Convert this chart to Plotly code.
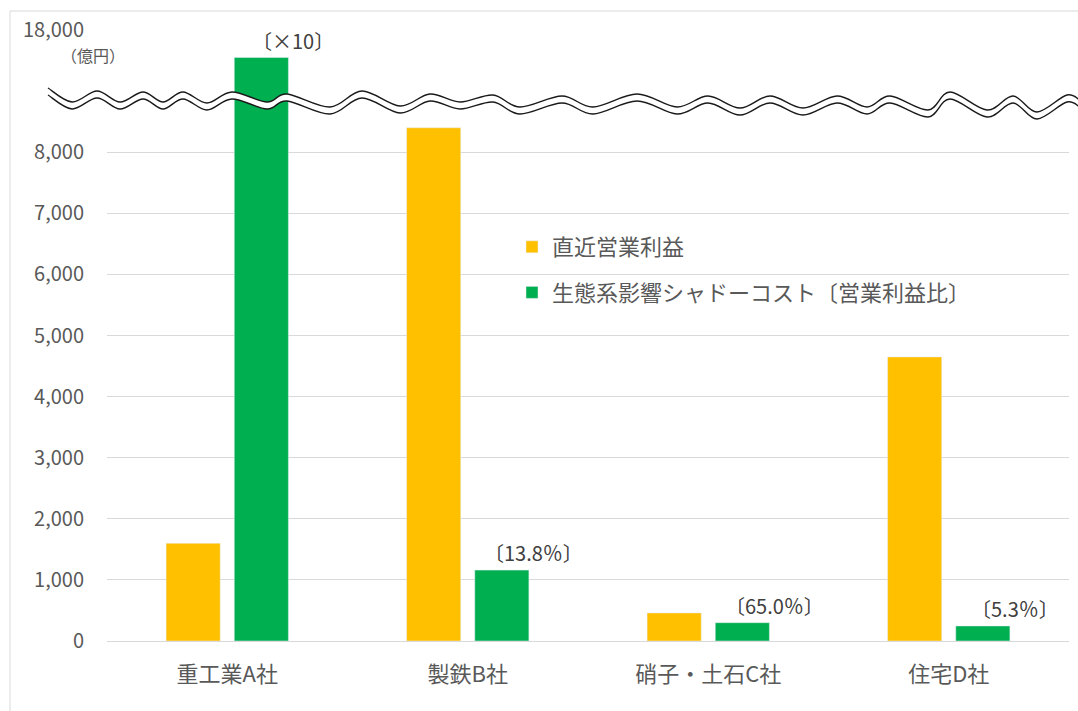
import plotly.graph_objects as go

# ---------------- data ----------------
categories = ["重工業A社", "製鉄B社", "硝子・土石C社", "住宅D社"]
operating_profit = [1600, 8400, 460, 4650]          # 直近営業利益 (億円)
shadow_cost = [17550, 1160, 300, 246]               # 生態系影響シャドーコスト (億円)
ratio_labels = ["〔×10〕", "〔13.8％〕", "〔65.0％〕", "〔5.3％〕"]
tick_values = [0, 1000, 2000, 3000, 4000, 5000, 6000, 7000, 8000, 18000]
series_names = ["直近営業利益", "生態系影響シャドーコスト〔営業利益比〕"]

# broken axis: values above the break are shifted down
BREAK_OFFSET = 8000
BREAK_AT = 9000


def to_axis(v):
    return v - BREAK_OFFSET if v > BREAK_AT else v


def fmt(v):
    return f"{v:,}"


YELLOW = "#FFC000"
GREEN = "#00B050"
GRAY = "#595959"
FONT = "Noto Sans CJK JP"

# layout geometry (pixels)
W, H = 1078, 711
L, R, T, B = 107, 9, 30, 70
PW = W - L - R
PH = H - T - B


def px_x(x):
    return (x - L) / PW


def px_y(y):
    return (H - B - y) / PH


fig = go.Figure()
fig.add_trace(go.Bar(
    x=categories, y=[to_axis(v) for v in operating_profit],
    name=series_names[0], marker_color=YELLOW, legendgroup="g1",
    customdata=operating_profit, hovertemplate="%{x}: %{customdata:,}<extra></extra>",
))
fig.add_trace(go.Bar(
    x=categories, y=[to_axis(v) for v in shadow_cost],
    name=series_names[1], marker_color=GREEN, legendgroup="g2",
    customdata=shadow_cost, hovertemplate="%{x}: %{customdata:,}<extra></extra>",
))

# ratio labels above the green bars
for cat, v, lab in zip(categories, shadow_cost, ratio_labels):
    fig.add_annotation(
        x=cat, y=to_axis(v), text=lab, showarrow=False,
        xanchor="center", yanchor="bottom", xshift=66, yshift=1,
        font=dict(family=FONT, size=20, color="#404040"),
    )

# unit label
fig.add_annotation(
    x=px_x(93), y=px_y(55), xref="paper", yref="paper", text="（億円）",
    showarrow=False, xanchor="center", yanchor="middle",
    font=dict(family=FONT, size=16, color=GRAY),
)

# ---------------- wave break decoration ----------------
wave_top = [(48, 88), (72, 102), (97, 91), (120, 102), (143, 92), (163, 102), (183, 92),
            (207, 103), (232, 92), (267, 102), (287, 94), (330, 107), (362, 91), (400, 106),
            (430, 94), (460, 102), (493, 95), (520, 107), (562, 96), (593, 107), (637, 94),
            (677, 107), (708, 96), (740, 108), (770, 96), (803, 108), (837, 96), (867, 107),
            (890, 96), (928, 110), (950, 92), (987, 110), (1013, 96), (1037, 112),
            (1067, 95), (1082, 102)]
GAP = 7
wave_bot = [(x, y + GAP) for x, y in wave_top]


def bezier_segments(pts):
    segs = []
    n = len(pts)
    for i in range(n - 1):
        p0 = pts[i - 1] if i > 0 else pts[i]
        p1 = pts[i]
        p2 = pts[i + 1]
        p3 = pts[i + 2] if i + 2 < n else pts[i + 1]
        c1 = (p1[0] + (p2[0] - p0[0]) / 6, p1[1] + (p2[1] - p0[1]) / 6)
        c2 = (p2[0] - (p3[0] - p1[0]) / 6, p2[1] - (p3[1] - p1[1]) / 6)
        segs.append((c1, c2, p2))
    return segs


def P(pt):
    return f"{px_x(pt[0]):.5f},{px_y(pt[1]):.5f}"


def open_path(pts):
    s = "M" + P(pts[0])
    for c1, c2, p in bezier_segments(pts):
        s += f" C{P(c1)} {P(c2)} {P(p)}"
    return s


def band_path(top, bot):
    s = open_path(top)
    rb = list(reversed(bot))
    s += " L" + P(rb[0])
    for c1, c2, p in bezier_segments(rb):
        s += f" C{P(c1)} {P(c2)} {P(p)}"
    return s + " Z"


shapes = [
    # outer chart frame
    dict(type="rect", xref="paper", yref="paper", x0=px_x(10), x1=px_x(1090),
         y0=px_y(725), y1=px_y(11), line=dict(color="#D9D9D9", width=1),
         fillcolor="rgba(0,0,0,0)", layer="below"),
    # white band of the break
    dict(type="path", xref="paper", yref="paper", path=band_path(wave_top, wave_bot),
         fillcolor="white", line=dict(width=0), layer="above"),
    dict(type="path", xref="paper", yref="paper", path=open_path(wave_top),
         line=dict(color="#1a1a1a", width=1.4), layer="above"),
    dict(type="path", xref="paper", yref="paper", path=open_path(wave_bot),
         line=dict(color="#1a1a1a", width=1.4), layer="above"),
]

fig.update_layout(
    width=W, height=H,
    margin=dict(l=L, r=R, t=T, b=B),
    paper_bgcolor="white", plot_bgcolor="white",
    barmode="group", bargap=0.433, bargroupgap=0.206,
    font=dict(family=FONT, color=GRAY),
    showlegend=True,
    legend=dict(
        x=px_x(512), y=px_y(226), xanchor="left", yanchor="top",
        font=dict(family=FONT, size=22, color=GRAY),
        bgcolor="rgba(0,0,0,0)", traceorder="grouped", tracegroupgap=14,
    ),
    shapes=shapes,
    xaxis=dict(
        type="category", categoryorder="array", categoryarray=categories,
        showgrid=False, showline=False, zeroline=False, ticks="",
        tickfont=dict(family=FONT, size=22, color=GRAY), ticklabelstandoff=18,
    ),
    yaxis=dict(
        range=[0, 10000], tickvals=[to_axis(v) for v in tick_values],
        ticktext=[fmt(v) for v in tick_values],
        showgrid=True, gridcolor="#D9D9D9", gridwidth=1,
        zeroline=True, zerolinecolor="#D9D9D9", zerolinewidth=1,
        showline=False, ticks="",
        tickfont=dict(family=FONT, size=20, color=GRAY), ticklabelstandoff=22,
    ),
)

fig.write_html("out.html")
